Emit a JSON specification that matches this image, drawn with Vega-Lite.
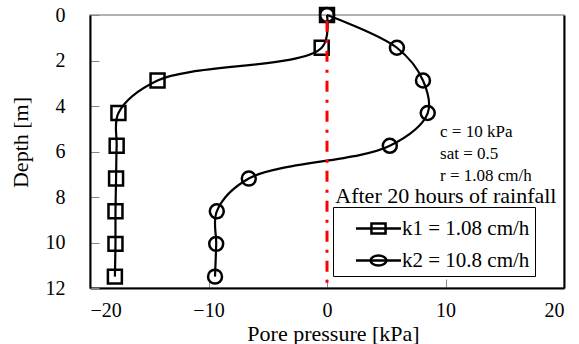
{
  "$schema": "https://vega.github.io/schema/vega-lite/v6.json",
  "width": 474,
  "height": 273,
  "autosize": {"type": "none"},
  "padding": {"left": 90, "top": 15, "right": 15, "bottom": 56},
  "config": {
    "font": "Liberation Serif",
    "view": {"stroke": "#999999", "strokeWidth": 1.5},
    "style": {
      "guide-label": {"font": "Liberation Serif", "fill": "black"},
      "guide-title": {"font": "Liberation Serif", "fill": "black"}
    },
    "axis": {
      "grid": false,
      "labelFont": "Liberation Serif",
      "titleFont": "Liberation Serif",
      "labelColor": "black",
      "titleColor": "black",
      "titleFontWeight": "normal",
      "domainColor": "black",
      "domainWidth": 2,
      "tickColor": "#888888",
      "tickSize": -9,
      "tickWidth": 1,
      "labelFontSize": 20,
      "titleFontSize": 22
    }
  },
  "datasets": {
    "profiles": [
      {"series": "k1 = 1.08 cm/h", "depth": 0, "pressure": 0},
      {"series": "k1 = 1.08 cm/h", "depth": 1.44, "pressure": -0.45},
      {"series": "k1 = 1.08 cm/h", "depth": 2.88, "pressure": -14.3},
      {"series": "k1 = 1.08 cm/h", "depth": 4.31, "pressure": -17.6},
      {"series": "k1 = 1.08 cm/h", "depth": 5.75, "pressure": -17.75},
      {"series": "k1 = 1.08 cm/h", "depth": 7.19, "pressure": -17.8},
      {"series": "k1 = 1.08 cm/h", "depth": 8.63, "pressure": -17.85},
      {"series": "k1 = 1.08 cm/h", "depth": 10.06, "pressure": -17.85},
      {"series": "k1 = 1.08 cm/h", "depth": 11.5, "pressure": -17.9},
      {"series": "k2 = 10.8 cm/h", "depth": 0, "pressure": 0},
      {"series": "k2 = 10.8 cm/h", "depth": 1.44, "pressure": 5.9},
      {"series": "k2 = 10.8 cm/h", "depth": 2.88, "pressure": 8.1},
      {"series": "k2 = 10.8 cm/h", "depth": 4.31, "pressure": 8.5},
      {"series": "k2 = 10.8 cm/h", "depth": 5.75, "pressure": 5.3},
      {"series": "k2 = 10.8 cm/h", "depth": 7.19, "pressure": -6.6},
      {"series": "k2 = 10.8 cm/h", "depth": 8.63, "pressure": -9.3},
      {"series": "k2 = 10.8 cm/h", "depth": 10.06, "pressure": -9.35},
      {"series": "k2 = 10.8 cm/h", "depth": 11.5, "pressure": -9.45}
    ]
  },
  "data": {"name": "profiles"},
  "resolve": {
    "axis": {"y": "independent"},
    "scale": {"shape": "independent"},
    "legend": {"shape": "independent"}
  },
  "layer": [
    {
      "mark": {"type": "line", "interpolate": "catmull-rom", "color": "black", "strokeWidth": 2.2},
      "encoding": {
        "x": {"field": "pressure", "type": "quantitative", "title": "Pore pressure [kPa]",
              "scale": {"domain": [-20, 20], "nice": false},
              "axis": {"values": [-20, -10, 0, 10, 20], "labelFont": "Liberation Serif", "titleFont": "Liberation Serif",
                       "labelFontSize": 20, "titleFontSize": 22, "labelPadding": 37, "labelBaseline": "alphabetic",
                       "titleX": 243, "titleY": 52, "titleBaseline": "alphabetic"}},
        "y": {"field": "depth", "type": "quantitative", "title": "Depth [m]",
              "scale": {"domain": [0, 12], "reverse": true, "nice": false},
              "axis": {"values": [0, 2, 4, 6, 8, 10, 12], "labelFont": "Liberation Serif", "titleFont": "Liberation Serif",
                       "labelFontSize": 20, "titleFontSize": 22, "labelPadding": 34, "titleX": -58, "titleY": 127}},
        "detail": {"field": "series"},
        "order": {"field": "depth", "type": "quantitative"}
      }
    },
    {
      "mark": {"type": "point", "filled": false, "strokeWidth": 2.5, "size": 195, "color": "black", "opacity": 1},
      "encoding": {
        "x": {"field": "pressure", "type": "quantitative", "title": "Pore pressure [kPa]"},
        "y": {"field": "depth", "type": "quantitative", "title": "Depth [m]", "axis": null},
        "shape": {
          "field": "series", "type": "nominal",
          "scale": {"domain": ["k1 = 1.08 cm/h", "k2 = 10.8 cm/h"], "range": ["square", "circle"]},
          "legend": null
        }
      }
    },
    {
      "data": {"values": []},
      "mark": {"type": "point", "filled": false, "strokeWidth": 2.5, "size": 900, "color": "black", "opacity": 1},
      "encoding": {
        "shape": {
          "field": "series", "type": "nominal",
          "scale": {"domain": ["k1 = 1.08 cm/h", "k2 = 10.8 cm/h"],
                    "range": ["M0.1,0H3.1M1.13,-0.33H2.07V0.33H1.13Z", "M0.1,0H3.1M1.07,0A0.53,0.33 0 1 1 2.13,0A0.53,0.33 0 1 1 1.07,0Z"]},
          "legend": {
            "title": null,
            "orient": "none",
            "legendX": 243,
            "legendY": 192,
            "strokeColor": "black",
            "fillColor": "white",
            "padding": 5,
            "labelFont": "Liberation Serif",
            "labelFontSize": 21,
            "labelColor": "black",
            "labelOffset": 31,
            "labelLimit": 400,
            "rowPadding": 5,
            "symbolSize": 900,
            "symbolStrokeWidth": 2.5,
            "symbolStrokeColor": "black",
            "symbolFillColor": "transparent",
            "symbolOpacity": 1,
            "labelExpr": "datum.label + '       '"
          }
        }
      }
    },
    {
      "data": {"values": [{}]},
      "mark": {"type": "rule", "color": "#ff0000", "strokeWidth": 3, "strokeDash": [11, 8, 3, 8]},
      "encoding": {
        "x": {"datum": 0, "type": "quantitative", "title": "Pore pressure [kPa]"},
        "y": {"datum": 0.25, "type": "quantitative", "axis": {"orient": "right", "labels": false, "ticks": false, "title": null, "domainColor": "black", "domainWidth": 2}},
        "y2": {"datum": 12}
      }
    },
    {
      "data": {"values": [{}]},
      "mark": {"type": "text", "align": "left", "baseline": "alphabetic", "fontSize": 17, "font": "Liberation Serif", "color": "black", "lineHeight": 22,
               "text": ["c = 10 kPa", "sat = 0.5", "r = 1.08 cm/h"]},
      "encoding": {
        "x": {"datum": 9.54, "type": "quantitative", "title": "Pore pressure [kPa]"},
        "y": {"datum": 5.35, "type": "quantitative", "axis": null}
      }
    },
    {
      "data": {"values": [{}]},
      "mark": {"type": "text", "align": "left", "baseline": "alphabetic", "fontSize": 22, "font": "Liberation Serif", "color": "black",
               "text": "After 20 hours of rainfall"},
      "encoding": {
        "x": {"datum": 0.7, "type": "quantitative", "title": "Pore pressure [kPa]"},
        "y": {"datum": 8.26, "type": "quantitative", "axis": null}
      }
    }
  ]
}
